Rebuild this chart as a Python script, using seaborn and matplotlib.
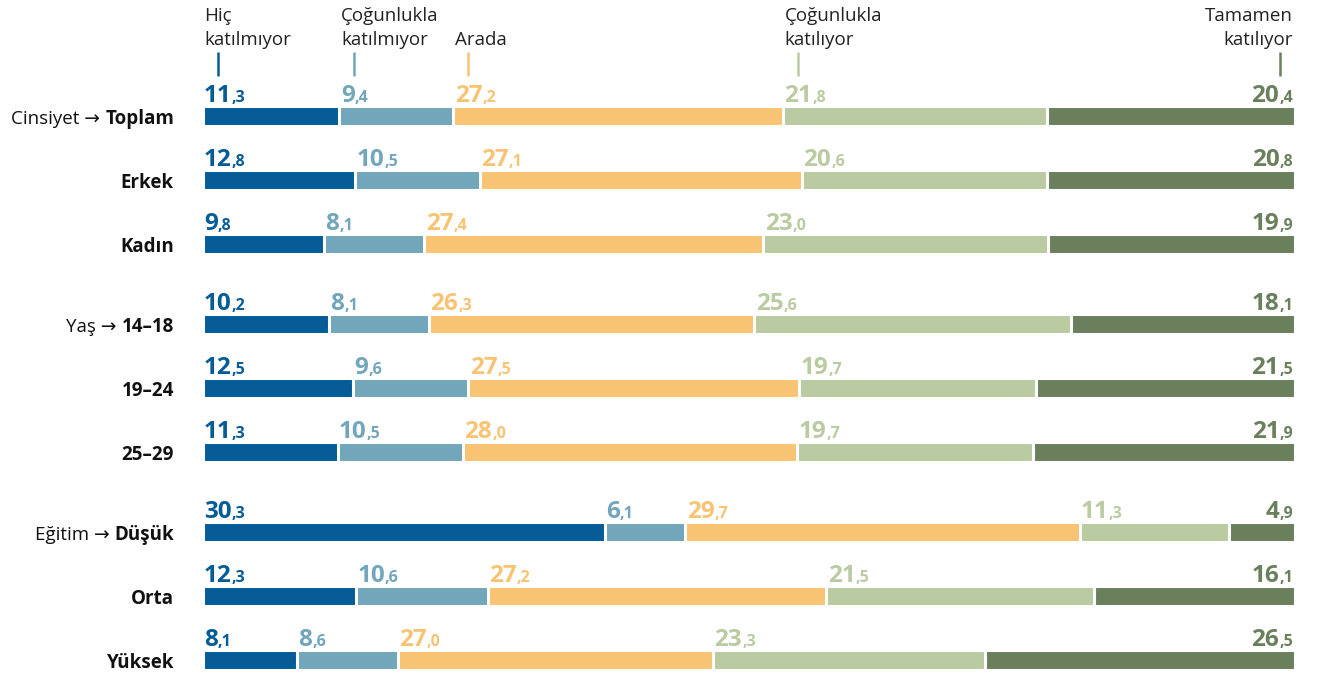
"""
Stacked 100% horizontal bars: agreement distribution by gender, age and education.
"""
import matplotlib
matplotlib.use("Agg")
import matplotlib.pyplot as plt
from matplotlib.transforms import offset_copy
import numpy as np
import seaborn as sns

# --- data -------------------------------------------------------------------
rows = ["Toplam", "Erkek", "Kadın", "14–18", "19–24", "25–29", "Düşük", "Orta", "Yüksek"]
row_prefix = ["Cinsiyet → ", "", "", "Yaş → ", "", "", "Eğitim → ", "", ""]
row_pos = [0, 1, 2, 3.25, 4.25, 5.25, 6.5, 7.5, 8.5]

categories = ["Hiç\nkatılmıyor", "Çoğunlukla\nkatılmıyor", "Arada",
              "Çoğunlukla\nkatılıyor", "Tamamen\nkatılıyor"]
hic_katilmiyor = [11.3, 12.8, 9.8, 10.2, 12.5, 11.3, 30.3, 12.3, 8.1]
cog_katilmiyor = [9.4, 10.5, 8.1, 8.1, 9.6, 10.5, 6.1, 10.6, 8.6]
arada = [27.2, 27.1, 27.4, 26.3, 27.5, 28.0, 29.7, 27.2, 27.0]
cog_katiliyor = [21.8, 20.6, 23.0, 25.6, 19.7, 19.7, 11.3, 21.5, 23.3]
tamamen_katiliyor = [20.4, 20.8, 19.9, 18.1, 21.5, 21.9, 4.9, 16.1, 26.5]

colors = ["#055c97", "#72a6bb", "#f9c374", "#bacba2", "#6a805d"]

# --- shares per row (each row fills the full width) ------------------------
vals = np.array([hic_katilmiyor, cog_katilmiyor, arada, cog_katiliyor, tamamen_katiliyor]).T
shares = vals / vals.sum(axis=1, keepdims=True) * 100
cum = np.cumsum(shares, axis=1)
starts = cum - shares

sns.set_theme(style="white")
plt.rcParams["font.family"] = ["Open Sans", "DejaVu Sans"]

fig = plt.figure(figsize=(13.22, 6.78), dpi=100)
ax_l, ax_r = 202.5, 1294.5
ax_w = ax_r - ax_l
ax = fig.add_axes([ax_l / 1322, 0, ax_w / 1322, 1])

# stacked bars: draw cumulative totals from the longest to the shortest
for k in reversed(range(5)):
    sns.barplot(x=cum[:, k], y=row_pos, orient="y", native_scale=True,
                color=colors[k], saturation=1, width=0.3, errorbar=None,
                edgecolor="white", linewidth=2.2, ax=ax)

ax.set_xlim(0, 100)
ax.set_ylim(8.5 + 18 / 64, -116 / 64)
ax.set_axis_off()

renderer = fig.canvas.get_renderer()
BIG, SMALL = 17.5, 11.5


def value_label(x, y, v, color, ha):
    big, dec = f"{v:.1f}".split(".")
    small = "," + dec
    kw = dict(va="baseline", fontweight="bold", color=color)
    if ha == "left":
        t = ax.text(x, y, big, ha="left", fontsize=BIG, **kw)
        w = t.get_window_extent(renderer).width
        ax.text(x, y, small, ha="left", fontsize=SMALL,
                transform=offset_copy(ax.transData, fig=fig, x=w, units="dots"), **kw)
    else:
        t = ax.text(x, y, small, ha="right", fontsize=SMALL, **kw)
        w = t.get_window_extent(renderer).width
        ax.text(x, y, big, ha="right", fontsize=BIG,
                transform=offset_copy(ax.transData, fig=fig, x=-w, units="dots"), **kw)


# value labels above each segment
px = 100 / ax_w
for i, y in enumerate(row_pos):
    for k in range(5):
        if k < 4:
            value_label(starts[i, k] + 1.5 * px, y - 14 / 64, vals[i, k], colors[k], "left")
        else:
            value_label(100 - 1.5 * px, y - 14 / 64, vals[i, k], colors[k], "right")

# row labels: prefix normal, category bold, right aligned
trans_y = ax.get_yaxis_transform()
lab_x = -(ax_l - 174) / ax_w
for i, y in enumerate(row_pos):
    t = ax.text(lab_x, y + 0.125, rows[i], ha="right", va="baseline",
                fontsize=13.5, fontweight="bold", color="#111111", transform=trans_y)
    if row_prefix[i]:
        w = t.get_window_extent(renderer).width
        ax.text(lab_x, y + 0.125, row_prefix[i], ha="right", va="baseline",
                fontsize=13.5, color="#111111",
                transform=offset_copy(trans_y, fig=fig, x=-w, units="dots"))

# header: category names with short coloured ticks (positioned on first row)
tick_off = 15 * px
for k, name in enumerate(categories):
    if k < 4:
        x_txt, x_tick, ha = starts[0, k] + 1.5 * px, starts[0, k] + tick_off, "left"
    else:
        x_txt, x_tick, ha = 100 - 1.5 * px, 100 - tick_off, "right"
    ax.text(x_txt, (45 - 116) / 64, name, ha=ha, va="baseline", multialignment=ha,
            fontsize=13.5, color="#222222", linespacing=1.4)
    ax.plot([x_tick, x_tick], [(52 - 116) / 64, (76 - 116) / 64],
            color=colors[k], linewidth=1.8, solid_capstyle="butt")

fig.savefig("out.png", dpi=100)
